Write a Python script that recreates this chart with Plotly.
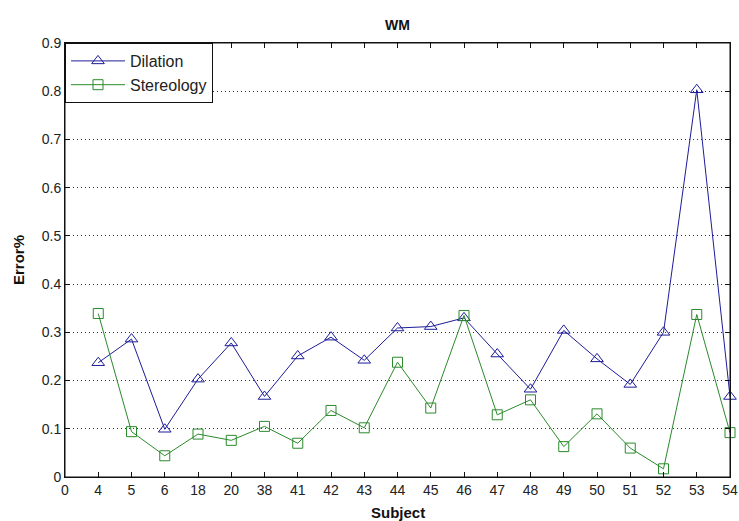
import plotly.graph_objects as go

subjects = ["4", "5", "6", "18", "20", "38", "41", "42", "43", "44",
            "45", "46", "47", "48", "49", "50", "51", "52", "53", "54"]
dilation = [0.237, 0.286, 0.099, 0.203, 0.278, 0.167, 0.251, 0.290, 0.242, 0.309,
            0.312, 0.330, 0.255, 0.182, 0.304, 0.245, 0.192, 0.300, 0.803, 0.167]
stereology = [0.339, 0.094, 0.044, 0.089, 0.076, 0.105, 0.070, 0.138, 0.102, 0.238,
              0.143, 0.335, 0.129, 0.160, 0.063, 0.131, 0.060, 0.017, 0.337, 0.092]
tick_labels = ["0"] + subjects
y_ticks = [0, 0.1, 0.2, 0.3, 0.4, 0.5, 0.6, 0.7, 0.8, 0.9]

positions = list(range(1, len(subjects) + 1))

FONT = "Liberation Sans, Arial, sans-serif"

fig = go.Figure()
fig.add_trace(go.Scatter(
    x=positions, y=dilation, name="Dilation", mode="lines+markers",
    line=dict(color="#1c1c9a", width=1), cliponaxis=False,
    marker=dict(symbol="triangle-up-open", size=11, color="#1c1c9a", line=dict(width=1))
))
fig.add_trace(go.Scatter(
    x=positions, y=stereology, name="Stereology", mode="lines+markers",
    line=dict(color="#2b8a2b", width=1), cliponaxis=False,
    marker=dict(symbol="square-open", size=10, color="#2b8a2b", line=dict(width=1))
))

tick_font = dict(family=FONT, size=14, color="#222")

fig.update_layout(
    width=739, height=521,
    margin=dict(l=65, r=9, t=43, b=44, autoexpand=False),
    paper_bgcolor="white", plot_bgcolor="white",
    showlegend=True,
    legend=dict(x=0, y=1, xanchor="left", yanchor="top", bgcolor="white",
                bordercolor="#111", borderwidth=1,
                font=dict(family=FONT, size=16, color="#222"),
                tracegroupgap=0, itemwidth=54),
    font=tick_font,
    shapes=[dict(type="rect", xref="paper", yref="paper", x0=0, x1=1, y0=0, y1=1,
                 line=dict(color="#111", width=1), fillcolor="rgba(0,0,0,0)",
                 layer="above")],
    annotations=[
        dict(text="<b>WM</b>", xref="paper", yref="paper", x=0.5, y=1,
             xanchor="center", yanchor="middle", yshift=18, showarrow=False,
             font=dict(family=FONT, size=14, color="#111")),
        dict(text="<b>Subject</b>", xref="paper", yref="paper", x=0.5, y=0,
             xanchor="center", yanchor="middle", yshift=-35, showarrow=False,
             font=dict(family=FONT, size=15, color="#111")),
        dict(text="<b>Error%</b>", xref="paper", yref="paper", x=0, y=0.5,
             xanchor="center", yanchor="middle", xshift=-47, textangle=-90,
             showarrow=False, font=dict(family=FONT, size=15, color="#111")),
    ],
)
fig.update_xaxes(
    range=[0, 20], tickmode="array", tickvals=list(range(0, 21)), ticktext=tick_labels,
    ticks="inside", ticklen=5, tickcolor="#111", showline=True, linecolor="#111",
    linewidth=1, mirror="ticks", showgrid=False, zeroline=False, automargin=False,
    tickfont=tick_font,
)
fig.update_yaxes(
    range=[0, 0.9], tickmode="array", tickvals=y_ticks,
    ticktext=[("%g" % v) for v in y_ticks],
    ticks="inside", ticklen=5, tickcolor="#111", showline=True, linecolor="#111",
    linewidth=1, mirror="ticks", showgrid=True, gridcolor="#333", griddash="1px,3px",
    gridwidth=1, zeroline=False, automargin=False,
    tickfont=tick_font,
)

fig.write_html(
    "out.html",
    config={"displayModeBar": False},
    post_script="document.body.style.margin='0';document.body.style.overflow='hidden';",
)
